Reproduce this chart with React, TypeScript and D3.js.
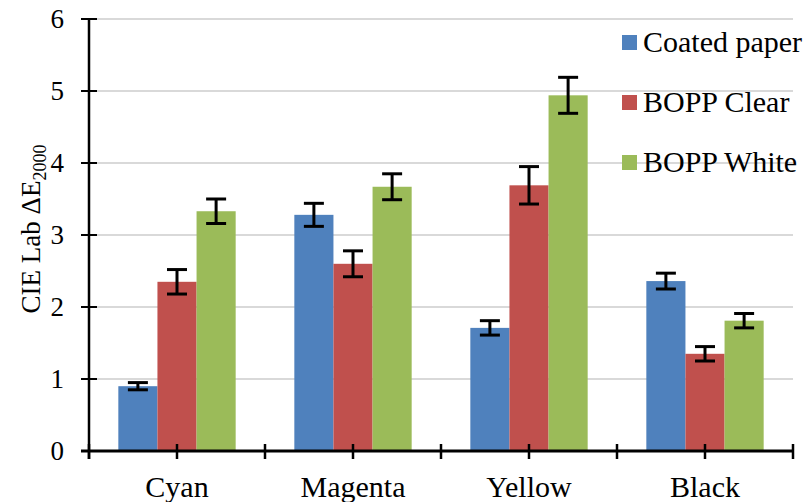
import React from "react";
import * as d3 from "d3";

const categories = ["Cyan", "Magenta", "Yellow", "Black"];
const seriesNames = ["Coated paper", "BOPP Clear", "BOPP White"];
const coatedPaper = [0.9, 3.28, 1.71, 2.36];
const coatedPaperErr = [0.05, 0.16, 0.1, 0.11];
const boppClear = [2.35, 2.6, 3.69, 1.35];
const boppClearErr = [0.17, 0.18, 0.26, 0.1];
const boppWhite = [3.33, 3.67, 4.94, 1.81];
const boppWhiteErr = [0.17, 0.18, 0.25, 0.1];
const yTicks = [0, 1, 2, 3, 4, 5, 6];
const colors = ["#4F81BD", "#C0504D", "#9BBB59"];

const W = 808;
const H = 502;
const M = { left: 89, right: 15, top: 19, bottom: 51 };
const FONT = '"Liberation Serif", "Times New Roman", Times, serif';
const tStyle: React.CSSProperties = { fontFamily: FONT };

export default function App() {
  const values = [coatedPaper, boppClear, boppWhite];
  const errs = [coatedPaperErr, boppClearErr, boppWhiteErr];
  const x0 = d3
    .scaleBand<string>()
    .domain(categories)
    .range([M.left, W - M.right])
    .paddingInner(0)
    .paddingOuter(0);
  const x1 = d3
    .scaleBand<string>()
    .domain(seriesNames)
    .range([0, x0.bandwidth()])
    .paddingOuter(0.75)
    .paddingInner(0);
  const y = d3.scaleLinear().domain([0, 6]).range([H - M.bottom, M.top]);
  const y0 = y(0);
  const half = x0.bandwidth() / 2;
  const xTickPos: number[] = [];
  categories.forEach((c) => {
    xTickPos.push(x0(c)!);
    xTickPos.push(x0(c)! + half);
  });
  xTickPos.push(W - M.right);

  return (
    <svg
      width={W}
      height={H}
      style={{ position: "absolute", left: 0, top: 0, background: "#fff" }}
    >
      {yTicks
        .filter((t) => t > 0)
        .map((t) => (
          <line
            key={"g" + t}
            x1={M.left}
            x2={W - M.right}
            y1={y(t)}
            y2={y(t)}
            stroke="#D9D9D9"
            strokeWidth={2}
          />
        ))}
      {categories.map((c, ci) =>
        seriesNames.map((s, si) => {
          const bx = x0(c)! + x1(s)!;
          const v = values[si][ci];
          return (
            <rect
              key={c + s}
              x={bx}
              y={y(v)}
              width={x1.bandwidth()}
              height={y0 - y(v)}
              fill={colors[si]}
            />
          );
        })
      )}
      {categories.map((c, ci) =>
        seriesNames.map((s, si) => {
          const cx = x0(c)! + x1(s)! + x1.bandwidth() / 2;
          const v = values[si][ci];
          const e = errs[si][ci];
          const yt = y(v + e);
          const yb = y(v - e);
          return (
            <g key={"e" + c + s} stroke="#000" strokeWidth={3}>
              <line x1={cx} x2={cx} y1={yt} y2={yb} />
              <line x1={cx - 10} x2={cx + 10} y1={yt} y2={yt} />
              <line x1={cx - 10} x2={cx + 10} y1={yb} y2={yb} />
            </g>
          );
        })
      )}
      <line x1={M.left} x2={M.left} y1={M.top} y2={y0 + 8} stroke="#000" strokeWidth={2.5} />
      {yTicks.map((t) => (
        <g key={"yt" + t}>
          <line x1={M.left - 8} x2={M.left + 8} y1={y(t)} y2={y(t)} stroke="#000" strokeWidth={2} />
          <text
            x={64}
            y={y(t)}
            dy="0.35em"
            textAnchor="end"
            fontSize={27}
            fill="#000"
            style={tStyle}
          >
            {t}
          </text>
        </g>
      ))}
      <line x1={M.left - 8} x2={W - M.right} y1={y0} y2={y0} stroke="#000" strokeWidth={3} />
      {xTickPos.map((p, i) => (
        <line key={"xt" + i} x1={p} x2={p} y1={y0 - 7} y2={y0 + 8} stroke="#000" strokeWidth={2.5} />
      ))}
      {categories.map((c) => (
        <text
          key={"xl" + c}
          x={x0(c)! + half}
          y={497}
          textAnchor="middle"
          fontSize={30}
          fill="#000"
          style={tStyle}
        >
          {c}
        </text>
      ))}
      <text
        transform={`translate(40, 229) rotate(-90)`}
        textAnchor="middle"
        fontSize={27}
        fill="#000"
        style={tStyle}
      >
        CIE Lab ΔE
        <tspan fontSize={18} dy={6}>
          2000
        </tspan>
      </text>
      {seriesNames.map((s, i) => {
        const cy = 42 + i * 60;
        return (
          <g key={"lg" + s}>
            <rect x={622} y={cy - 7} width={15} height={15} fill={colors[i]} />
            <text x={643} y={cy + 10} fontSize={30} fill="#000" style={tStyle}>
              {s}
            </text>
          </g>
        );
      })}
    </svg>
  );
}
